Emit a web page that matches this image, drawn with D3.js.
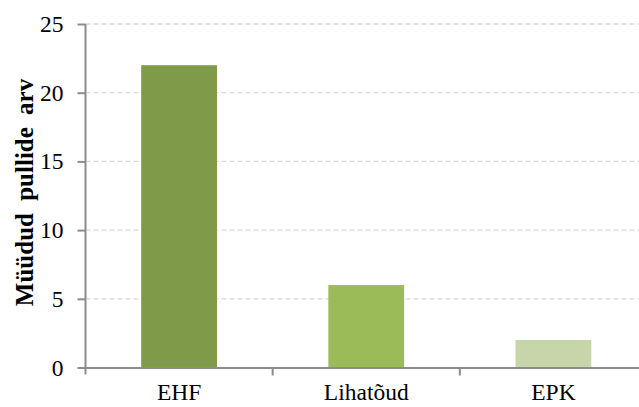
<!DOCTYPE html>
<html>
<head>
<meta charset="utf-8">
<script src="https://cdn.jsdelivr.net/npm/d3@7"></script>
<style>
  body { margin: 0; background: #fff; }
</style>
</head>
<body>
<div id="chart"></div>
<script>
// data
let categories = ["EHF", "Lihatõud", "EPK"];
let values = [22, 6, 2];
let barColors = ["#7f9a48", "#9bbb59", "#c6d6a9"];
let yTicks = [0, 5, 10, 15, 20, 25];

let width = 639, height = 407;
let margin = { top: 24, right: -8, bottom: 39.5, left: 85.5 };
let serif = "'Times New Roman', 'Liberation Serif', 'DejaVu Serif', serif";

let svg = d3.select("#chart")
    .append("svg")
    .attr("width", width)
    .attr("height", height)
    .style("font-family", serif);

let x = d3.scaleBand()
    .domain(categories)
    .range([margin.left, width - margin.right])
    .paddingInner(0)
    .paddingOuter(0);

let y = d3.scaleLinear()
    .domain([0, 25])
    .range([height - margin.bottom, margin.top]);

// dashed gridlines
svg.append("g")
    .selectAll("line")
    .data(yTicks.filter(d => d > 0))
    .enter()
    .append("line")
    .attr("x1", margin.left)
    .attr("x2", width)
    .attr("y1", d => y(d))
    .attr("y2", d => y(d))
    .attr("stroke", "#d9d9d9")
    .attr("stroke-width", 1.3)
    .attr("stroke-dasharray", "5,3");

// bars
let barW = x.bandwidth() * 0.405;
svg.append("g")
    .selectAll("rect")
    .data(values)
    .enter()
    .append("rect")
    .attr("x", (d, i) => x(categories[i]) + (x.bandwidth() - barW) / 2)
    .attr("y", d => y(d))
    .attr("width", barW)
    .attr("height", d => y(0) - y(d))
    .attr("fill", (d, i) => barColors[i]);

// y axis
let yAxis = svg.append("g")
    .attr("transform", "translate(" + margin.left + ",0)")
    .call(d3.axisLeft(y).tickValues(yTicks).tickSize(8).tickPadding(14).tickSizeOuter(0))
    .attr("font-family", null)
    .attr("font-size", 23.5);
yAxis.select(".domain").remove();
yAxis.append("line")
    .attr("x1", 0).attr("x2", 0)
    .attr("y1", y(25)).attr("y2", y(0) + 7)
    .attr("stroke", "#8c8c8c")
    .attr("stroke-width", 2);
yAxis.selectAll(".tick line").attr("stroke", "#8c8c8c").attr("stroke-width", 2);
yAxis.selectAll(".tick text").attr("fill", "#000");

// x axis
let xAxis = svg.append("g")
    .attr("transform", "translate(0," + y(0) + ")")
    .call(d3.axisBottom(x).tickSize(0).tickPadding(16).tickSizeOuter(0))
    .attr("font-family", null)
    .attr("font-size", 23.5);
xAxis.select(".domain").attr("stroke", "#8c8c8c").attr("stroke-width", 2);
xAxis.selectAll(".tick text").attr("fill", "#000");

// ticks between categories
svg.append("g")
    .selectAll("line")
    .data(categories.slice(1))
    .enter()
    .append("line")
    .attr("x1", d => x(d))
    .attr("x2", d => x(d))
    .attr("y1", y(0))
    .attr("y2", y(0) + 8)
    .attr("stroke", "#8c8c8c")
    .attr("stroke-width", 2);

// y axis title
svg.append("text")
    .attr("transform", "translate(33," + 192.5 + ") rotate(-90)")
    .attr("text-anchor", "middle")
    .attr("font-size", 25)
    .attr("font-weight", "bold")
    .attr("word-spacing", 6)
    .text("Müüdud pullide arv");
</script>
</body>
</html>
